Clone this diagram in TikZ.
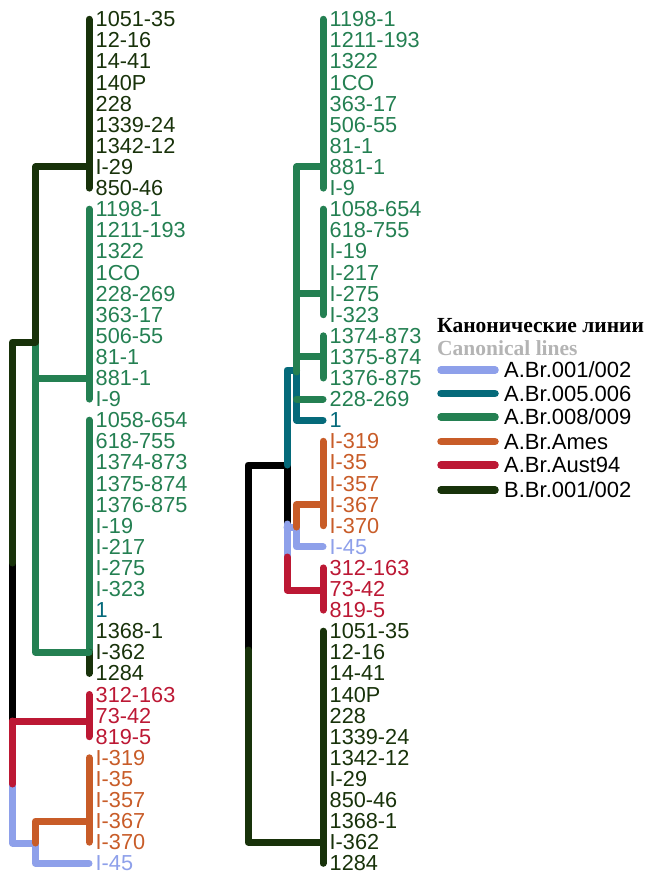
\documentclass[tikz,border=0pt]{standalone}
\usepackage{fontspec}
\setmainfont{Liberation Sans}
\newfontfamily\legtitle{Liberation Serif}
\definecolor{cB}{RGB}{24,50,10}
\definecolor{cG}{RGB}{36,128,82}
\definecolor{cT}{RGB}{5,106,122}
\definecolor{cO}{RGB}{200,92,40}
\definecolor{cR}{RGB}{188,24,52}
\definecolor{cL}{RGB}{142,160,234}
\definecolor{cK}{RGB}{180,180,180}
\begin{document}
\begin{tikzpicture}[x=1pt,y=-1pt,
  br/.style={line width=7pt, line cap=round, line join=round},
  lbl/.style={anchor=west, inner sep=0pt, text height=15pt, text depth=0pt,
              font=\fontsize{21.7}{21}\selectfont},
  legtxt/.style={lbl, text=black, font=\fontsize{22}{22}\selectfont},
  legttl/.style={anchor=base west, inner sep=0pt,
                 font=\legtitle\bfseries\fontsize{21.5}{21.5}\selectfont}]
\useasboundingbox (0,0) rectangle (650,874);

% columns of the two trees
\coordinate (A) at (12.5,0);
\coordinate (B) at (35.5,0);
\coordinate (C) at (89,0);
\coordinate (D) at (248,0);
\coordinate (E) at (287,0);
\coordinate (F) at (296.5,0);
\coordinate (G) at (323,0);

% leaf labels, left tree
\foreach \t/\c [count=\i] in {1051-35/cB,12-16/cB,14-41/cB,140P/cB,228/cB,1339-24/cB,
  1342-12/cB,I-29/cB,850-46/cB,1198-1/cG,1211-193/cG,1322/cG,1CO/cG,228-269/cG,
  363-17/cG,506-55/cG,81-1/cG,881-1/cG,I-9/cG,1058-654/cG,618-755/cG,1374-873/cG,
  1375-874/cG,1376-875/cG,I-19/cG,I-217/cG,I-275/cG,I-323/cG,1/cT,1368-1/cB,
  I-362/cB,1284/cB,312-163/cR,73-42/cR,819-5/cR,I-319/cO,I-35/cO,I-357/cO,
  I-367/cO,I-370/cO,I-45/cL}
  \node[lbl, text=\c] (l\i) at (95.5,{19.3+21.1*(\i-1)}) {\t};

% leaf labels, right tree
\foreach \t/\c [count=\i] in {1198-1/cG,1211-193/cG,1322/cG,1CO/cG,363-17/cG,
  506-55/cG,81-1/cG,881-1/cG,I-9/cG,1058-654/cG,618-755/cG,I-19/cG,I-217/cG,
  I-275/cG,I-323/cG,1374-873/cG,1375-874/cG,1376-875/cG,228-269/cG,1/cT,
  I-319/cO,I-35/cO,I-357/cO,I-367/cO,I-370/cO,I-45/cL,312-163/cR,73-42/cR,
  819-5/cR,1051-35/cB,12-16/cB,14-41/cB,140P/cB,228/cB,1339-24/cB,1342-12/cB,
  I-29/cB,850-46/cB,1368-1/cB,I-362/cB,1284/cB}
  \node[lbl, text=\c] (r\i) at (329.5,{19.3+21.1*(\i-1)}) {\t};

% ---- left tree ----
\draw[br,black] (A |- 0,563) -- (A |- 0,721);
\draw[br,cG] (C |- l10) -- (C |- l19);
\draw[br,cG] (C |- l20) -- (C |- l31);
\draw[br,cB] (C |- l31) -- (C |- l32);
\draw[br,cG] (B |- 0,342) -- (B |- l31) -- (C |- l31);
\draw[br,cG] (B |- l18) -- (C |- l18);
\draw[br,cB] (C |- l1) -- (C |- l9);
\draw[br,cB] (C |- l8) -- (B |- l8) -- (B |- 0,342) -- (A |- 0,342) -- (A |- 0,563);
\draw[br,cL] (A |- 0,784) -- (A |- 0,843) -- (B |- 0,843) -- (B |- l41) -- (C |- l41);
\draw[br,cR] (A |- 0,721) -- (A |- 0,784);
\draw[br,cR] (A |- 0,721) -- (C |- 0,721);
\draw[br,cR] (C |- l33) -- (C |- l35);
\draw[br,cO] (B |- 0,843) -- (B |- l39) -- (C |- l39);
\draw[br,cO] (C |- l36) -- (C |- l40);

% ---- right tree ----
\draw[br,black] (E |- 0,465) -- (D |- 0,465) -- (D |- 0,650);
\draw[br,black] (E |- 0,465) -- (E |- 0,524);
\draw[br,cT] (F |- 0,370) -- (E |- 0,370) -- (E |- 0,465);
\draw[br,cT] (F |- 0,370) -- (F |- r20) -- (G |- r20);
\draw[br,cG] (G |- r1) -- (G |- r9);
\draw[br,cG] (G |- r8) -- (F |- r8) -- (F |- 0,372);
\draw[br,cG] (G |- r10) -- (G |- r15);
\draw[br,cG] (G |- r14) -- (F |- r14);
\draw[br,cG] (G |- r16) -- (G |- r18);
\draw[br,cG] (G |- r17) -- (F |- r17);
\draw[br,cG] (F |- r19) -- (G |- r19);
\draw[br,cL] (E |- 0,524) -- (E |- 0,557);
\draw[br,cL] (E |- 0,527) -- (F |- 0,527) -- (F |- r26) -- (G |- r26);
\draw[br,cO] (G |- r21) -- (G |- r25);
\draw[br,cO] (G |- r24) -- (F |- r24) -- (F |- 0,527);
\draw[br,cR] (E |- 0,557) -- (E |- 0,590) -- (G |- 0,590);
\draw[br,cR] (G |- r27) -- (G |- r29);
\draw[br,cB] (D |- 0,650) -- (D |- r40) -- (G |- r40);
\draw[br,cB] (G |- r30) -- (G |- r41);

% ---- legend ----
\node[legttl] (ttl) at (437,332) {Канонические линии};
\node[legttl, text=cK] (sub) at (437,355.5) {Canonical lines};
\node[legtxt] (k1) at (504,370) {A.Br.001/002};
\node[legtxt] (k2) at (504,393.5) {A.Br.005.006};
\node[legtxt] (k3) at (504,417) {A.Br.008/009};
\node[legtxt] (k4) at (504,441.5) {A.Br.Ames};
\node[legtxt] (k5) at (504,465) {A.Br.Aust94};
\node[legtxt] (k6) at (504,490) {B.Br.001/002};
\foreach \k/\c in {k1/cL,k2/cT,k3/cG,k4/cO,k5/cR,k6/cB}
  \draw[br,line width=7.5pt,\c] ([xshift=-63pt]\k.west) -- ([xshift=-9pt]\k.west);
\end{tikzpicture}
\end{document}
